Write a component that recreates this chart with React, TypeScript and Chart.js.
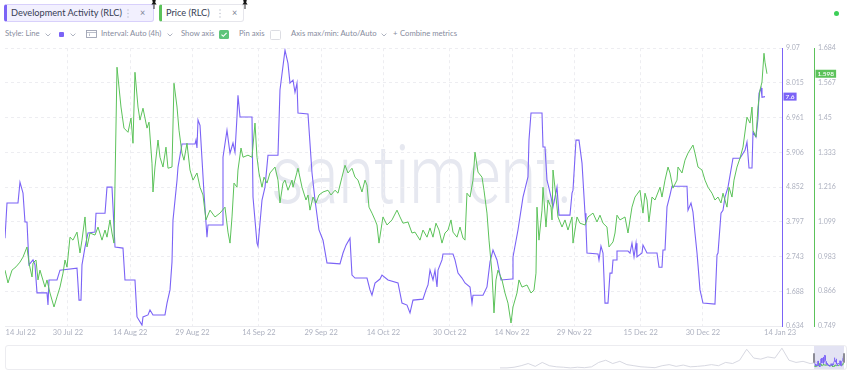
import React, { useEffect, useRef } from "react";
import { Chart, registerables } from "chart.js";

Chart.register(...registerables);

const FONT = "Lato, 'Open Sans', sans-serif";
const PURPLE = "#7b63f6";
const GREEN = "#5cc25a";
const TICK_COLOR = "#aeb2c0";

// ---- x axis (days since 14 Jul 22) ----
const xTickDays = [4.6, 16, 31, 46, 62, 77, 92, 108, 123, 138, 154, 169, 187.6];
const xTickLabels = ["14 Jul 22", "30 Jul 22", "14 Aug 22", "29 Aug 22", "14 Sep 22", "29 Sep 22", "14 Oct 22", "30 Oct 22", "14 Nov 22", "29 Nov 22", "15 Dec 22", "30 Dec 22", "14 Jan 23"];
const devTickLabels = ["0.634", "1.688", "2.743", "3.797", "4.852", "5.906", "6.961", "8.015", "9.07"];
const priceTickLabels = ["0.749", "0.866", "0.983", "1.099", "1.216", "1.333", "1.45", "1.567", "1.684"];

// ---- Development Activity (RLC) ----
const devDays = [0.82,1.30,3.95,4.43,5.16,5.64,6.12,6.60,7.57,8.05,8.53,10.94,11.18,11.42,13.35,14.07,18.17,18.65,19.13,19.37,20.10,20.82,22.51,22.75,24.92,25.40,26.60,27.33,29.25,29.73,32.14,32.63,33.83,34.07,35.28,35.76,36.48,39.37,39.86,40.58,41.06,41.30,42.27,42.51,43.47,46.60,46.84,47.08,47.33,47.81,48.77,49.49,49.73,53.11,53.35,54.31,55.04,55.76,56.24,56.72,56.96,57.45,60.34,60.58,61.54,61.78,62.75,63.47,64.19,66.60,67.08,68.29,69.01,69.49,70.22,70.70,71.18,71.42,73.83,74.80,75.52,76.48,77.45,78.41,81.54,82.27,82.99,83.95,84.43,85.16,88.05,88.77,89.25,89.98,91.18,91.66,93.11,95.52,96.00,96.48,97.69,98.41,99.13,101.54,102.27,102.75,103.23,103.95,104.43,104.92,105.16,106.12,106.36,108.77,109.25,109.98,110.94,111.66,112.87,113.35,113.59,116.00,116.96,117.69,118.41,119.37,120.34,122.99,123.23,124.43,125.64,126.84,127.08,127.57,130.22,130.46,130.94,131.42,131.90,132.39,132.87,133.35,133.83,134.31,136.96,137.45,137.69,138.41,139.13,139.86,140.58,140.82,141.06,143.71,143.95,144.43,144.92,145.40,146.12,146.60,147.09,147.33,148.05,148.29,150.94,151.42,151.90,152.39,152.87,153.11,154.31,154.55,155.52,157.93,158.41,159.13,159.37,159.86,160.34,161.06,161.54,165.16,165.40,166.12,166.60,167.08,167.57,167.81,168.29,169.01,171.90,172.39,172.63,173.35,173.83,174.31,175.04,176.24,177.93,179.13,179.61,180.10,180.82,181.06,181.78,182.27,182.51,182.99,183.23,183.95];
const devValues = [3.30,4.37,4.37,5.00,4.67,3.79,3.79,2.49,2.64,2.49,1.64,1.64,1.27,2.03,2.03,2.33,2.39,1.42,1.42,2.49,3.03,3.46,3.49,4.06,4.06,4.85,4.85,3.03,3.00,2.03,2.03,0.91,0.66,0.91,0.97,1.12,0.97,0.97,1.33,1.73,2.58,3.85,5.06,5.46,6.16,6.16,6.28,6.04,6.89,6.73,4.67,3.33,3.70,3.70,5.76,6.58,5.88,6.19,5.91,6.98,7.64,6.98,6.98,4.55,3.15,3.06,4.46,4.85,5.82,5.82,7.80,9.01,8.61,8.01,8.10,7.73,8.01,7.10,7.07,5.28,4.46,3.55,3.24,2.55,2.52,2.85,3.09,3.30,2.18,2.09,2.09,1.73,1.57,1.94,2.06,2.18,2.03,1.94,1.64,1.33,1.27,1.03,1.42,1.45,1.73,1.88,2.33,2.03,2.33,1.82,2.33,2.64,2.82,2.82,2.64,2.24,2.09,1.94,1.82,1.33,1.57,1.57,1.82,2.58,2.94,2.64,2.03,2.06,2.73,3.55,4.55,5.16,6.28,7.10,7.10,6.07,6.07,5.06,4.82,4.55,4.25,4.55,4.85,4.00,4.00,4.67,4.76,6.28,6.28,5.58,4.06,3.64,2.85,2.82,2.64,3.06,2.85,1.33,1.33,2.24,2.24,2.64,2.64,2.91,2.91,2.85,3.15,2.73,3.15,2.73,2.85,3.09,2.85,2.85,2.42,2.42,2.94,2.94,4.25,4.61,4.88,4.88,4.15,4.37,4.09,3.46,2.85,2.49,1.73,1.33,1.30,2.79,2.85,4.06,4.15,4.55,4.85,5.73,5.73,5.97,6.22,5.43,5.43,6.52,6.37,6.95,7.70,7.86,7.58,7.60];

// ---- Price (RLC) ----
const priceDays = [0.82,1.54,2.51,3.47,4.43,5.16,6.12,6.60,7.33,7.57,8.29,8.77,9.25,10.46,10.94,11.66,12.63,13.35,14.07,14.80,15.28,15.76,16.48,17.20,18.17,18.89,19.37,20.10,20.58,21.30,22.51,23.23,24.19,24.92,25.40,26.12,26.60,27.08,27.81,28.77,29.49,30.46,31.18,31.66,32.14,32.87,33.35,34.07,35.04,35.52,36.24,36.48,36.96,37.69,38.17,38.89,39.61,40.10,41.06,41.54,42.27,42.75,43.47,43.95,44.67,45.40,46.12,47.08,47.81,48.53,49.25,50.22,51.42,52.63,53.83,54.55,55.04,55.52,56.00,56.72,56.96,57.69,58.17,59.37,60.34,61.06,61.54,62.02,62.75,63.23,63.95,64.67,65.88,66.60,67.08,67.81,68.29,69.01,69.98,70.22,71.18,71.42,72.39,73.35,73.83,74.31,75.04,75.76,76.48,77.45,78.65,79.37,80.34,81.06,82.02,82.75,83.47,84.43,85.16,85.88,86.84,87.57,88.05,88.53,89.25,89.98,90.46,90.94,91.66,91.90,92.87,94.07,95.28,96.00,96.72,97.93,98.89,99.61,100.82,101.54,102.51,103.23,103.95,104.67,105.40,106.12,106.84,107.57,108.29,108.77,109.73,110.46,111.18,111.66,112.14,112.87,113.59,114.07,114.80,115.76,116.24,116.96,117.45,118.17,118.65,119.13,119.61,120.58,121.30,122.02,122.75,123.23,124.19,124.67,125.40,126.60,127.57,128.29,128.77,129.01,129.49,130.22,130.46,131.18,131.66,132.39,132.63,132.87,133.59,134.07,135.04,135.76,136.48,137.45,137.69,138.65,139.37,140.58,141.30,142.51,143.47,144.19,144.92,145.88,146.36,147.33,147.81,148.29,149.01,150.22,150.94,151.42,151.90,152.63,153.83,154.55,155.04,155.52,155.99,156.72,157.45,158.65,159.13,159.86,160.58,161.06,161.78,162.75,162.99,163.95,164.67,165.40,166.60,167.08,167.81,168.77,169.49,170.22,171.18,171.90,172.63,173.35,173.83,174.80,175.28,176.00,176.48,177.20,177.93,178.65,179.61,180.34,180.82,181.06,181.78,182.27,182.75,183.23,183.71,183.95,184.43];
const priceValues = [0.937,0.894,0.937,0.948,0.964,0.981,1.015,0.961,0.914,0.961,0.971,0.904,0.937,0.880,0.904,0.860,0.813,0.847,0.880,0.927,0.971,0.947,1.048,1.038,1.065,0.995,1.038,1.116,1.015,1.062,1.055,1.082,1.038,1.072,1.048,1.106,1.062,1.028,1.620,1.486,1.415,1.401,1.449,1.364,1.603,1.486,1.442,1.482,1.415,1.435,1.297,1.200,1.284,1.375,1.317,1.284,1.351,1.280,1.284,1.566,1.486,1.408,1.331,1.307,1.364,1.274,1.240,1.264,1.216,1.190,1.106,1.139,1.116,1.129,1.149,1.065,1.028,1.116,1.230,1.216,1.274,1.348,1.317,1.324,1.317,1.432,1.317,1.264,1.216,1.250,1.230,1.264,1.284,1.240,1.163,1.230,1.240,1.206,1.240,1.216,1.267,1.280,1.216,1.173,1.190,1.139,1.183,1.163,1.190,1.200,1.206,1.190,1.206,1.196,1.250,1.290,1.264,1.280,1.250,1.240,1.200,1.240,1.223,1.149,1.129,1.106,1.089,1.028,1.095,1.116,1.089,1.106,1.139,1.116,1.095,1.099,1.062,1.065,1.038,1.072,1.048,1.079,1.048,1.095,1.072,1.028,1.062,1.072,1.106,1.065,1.048,1.082,1.045,1.038,1.196,1.183,1.240,1.334,1.267,1.250,1.206,1.129,1.038,0.927,0.793,0.904,0.937,0.904,0.860,0.826,0.759,0.813,0.860,0.904,0.880,0.887,0.860,0.870,0.927,1.149,1.038,1.139,1.216,1.082,1.173,1.149,1.106,1.274,1.183,1.116,1.082,1.106,1.072,1.116,1.028,1.116,1.095,1.089,1.116,1.129,1.099,1.122,1.095,1.082,1.015,1.032,1.062,1.122,1.106,1.116,1.062,1.106,1.149,1.183,1.206,1.129,1.196,1.173,1.099,1.183,1.173,1.216,1.183,1.240,1.284,1.264,1.213,1.240,1.284,1.264,1.307,1.331,1.358,1.331,1.284,1.274,1.240,1.216,1.196,1.173,1.183,1.163,1.196,1.149,1.216,1.183,1.240,1.284,1.314,1.351,1.452,1.432,1.486,1.408,1.385,1.486,1.543,1.570,1.667,1.637,1.598];

// ---- navigator overview (long history, relative activity) ----
const navStartDay = -1960;
const navStepDays = 44;
const navOverview = [0.05,0.05,0.08,0.15,0.25,0.12,0.3,0.15,0.1,0.08,0.05,0.08,0.06,0.1,0.3,0.4,0.25,0.35,0.2,0.15,0.1,0.08,0.06,0.15,0.2,0.12,0.18,0.1,0.12,0.15,0.2,0.15,0.3,0.25,0.4,0.9,0.5,0.45,0.55,0.5,0.95,0.4,0.3,0.35,0.25,0.3];

const zip = (xs: number[], ys: number[]) => xs.map((x, i) => ({ x, y: ys[i] }));

const lastValuePlugin = {
  id: "lastValue",
  afterDraw(chart: any) {
    const ctx = chart.ctx;
    chart.data.datasets.forEach((ds: any) => {
      const scale = chart.scales[ds.yAxisID];
      const last = ds.data[ds.data.length - 1];
      const y = scale.getPixelForValue(last.y);
      const text = String(Number(last.y.toFixed(3)));
      ctx.save();
      ctx.font = `600 6.5px ${FONT}`;
      const w = ctx.measureText(text).width + 4;
      const x = scale.left + 1.5;
      ctx.fillStyle = ds.borderColor;
      ctx.fillRect(x, y - 4, w, 8);
      ctx.fillStyle = "#ffffff";
      ctx.textBaseline = "middle";
      ctx.fillText(text, x + 2, y + 0.5);
      ctx.restore();
    });
  },
};

function MainChart() {
  const ref = useRef<HTMLCanvasElement>(null);
  useEffect(() => {
    const chart = new Chart(ref.current as HTMLCanvasElement, {
      type: "line",
      data: {
        datasets: [
          {
            label: "Development Activity (RLC)",
            data: zip(devDays, devValues),
            borderColor: PURPLE,
            borderWidth: 1.1,
            pointRadius: 0,
            tension: 0,
            yAxisID: "yDev",
            order: 2,
          },
          {
            label: "Price (RLC)",
            data: zip(priceDays, priceValues),
            borderColor: GREEN,
            borderWidth: 1,
            pointRadius: 0,
            tension: 0,
            yAxisID: "yPrice",
            order: 1,
          },
        ],
      },
      options: {
        animation: false,
        responsive: false,
        maintainAspectRatio: false,
        layout: { padding: { left: 5, top: 8, right: 2, bottom: 0 } },
        plugins: { legend: { display: false }, tooltip: { enabled: false } },
        scales: {
          x: {
            type: "linear",
            min: 0.82,
            max: 188.05,
            afterBuildTicks: (s: any) => {
              s.ticks = xTickDays.map((v) => ({ value: v }));
            },
            afterFit: (s: any) => {
              s.height = 14;
            },
            grid: {
              drawTicks: false,
              color: (c: any) =>
                c.index === 0 || c.index === xTickDays.length - 1 ? "rgba(0,0,0,0)" : "#ededf1",
            },
            border: { display: true, color: "#ececf0", dash: [3, 3] },
            ticks: {
              autoSkip: false,
              maxRotation: 0,
              padding: 2,
              color: TICK_COLOR,
              font: { family: FONT, size: 7.5 },
              callback: (_v: any, i: number) => xTickLabels[i],
            },
          },
          yDev: {
            type: "linear",
            position: "right",
            min: 0.634,
            max: 9.07,
            afterBuildTicks: (s: any) => {
              s.ticks = devTickLabels.map((l) => ({ value: parseFloat(l) }));
            },
            afterFit: (s: any) => {
              s.width = 32;
            },
            grid: { drawTicks: false, color: "#ededf1" },
            border: { display: true, color: PURPLE, width: 1, dash: [3, 3] },
            ticks: {
              padding: 4,
              color: TICK_COLOR,
              font: { family: FONT, size: 7 },
              callback: (_v: any, i: number) => devTickLabels[i],
            },
          },
          yPrice: {
            type: "linear",
            position: "right",
            min: 0.749,
            max: 1.684,
            afterBuildTicks: (s: any) => {
              s.ticks = priceTickLabels.map((l) => ({ value: parseFloat(l) }));
            },
            afterFit: (s: any) => {
              s.width = 34;
            },
            grid: { drawTicks: false, drawOnChartArea: false },
            border: { display: true, color: GREEN, width: 1 },
            ticks: {
              padding: 4,
              color: TICK_COLOR,
              font: { family: FONT, size: 7 },
              callback: (_v: any, i: number) => priceTickLabels[i],
            },
          },
        },
      },
      plugins: [lastValuePlugin],
    } as any);
    return () => chart.destroy();
  }, []);
  return (
    <canvas
      ref={ref}
      width={850}
      height={300}
      style={{ position: "absolute", left: 0, top: 40, width: 850, height: 300 }}
    />
  );
}

function NavigatorChart() {
  const ref = useRef<HTMLCanvasElement>(null);
  useEffect(() => {
    const chart = new Chart(ref.current as HTMLCanvasElement, {
      type: "line",
      data: {
        datasets: [
          {
            data: navOverview.map((v, i) => ({ x: navStartDay + i * navStepDays, y: v })),
            borderColor: "#d3d4de",
            borderWidth: 0.9,
            pointRadius: 0,
            yAxisID: "yNav",
          },
          {
            data: zip(devDays, devValues),
            borderColor: PURPLE,
            borderWidth: 0.8,
            pointRadius: 0,
            yAxisID: "yNavDev",
          },
          {
            data: zip(priceDays, priceValues),
            borderColor: GREEN,
            borderWidth: 0.8,
            pointRadius: 0,
            yAxisID: "yNavPrice",
          },
        ],
      },
      options: {
        animation: false,
        responsive: false,
        maintainAspectRatio: false,
        layout: { padding: 0 },
        plugins: { legend: { display: false }, tooltip: { enabled: false } },
        scales: {
          x: { type: "linear", min: -5050, max: 200, display: false },
          yNav: { min: 0, max: 1.05, display: false },
          yNavDev: { min: -0.8, max: 15.3, display: false },
          yNavPrice: { min: 0.29, max: 5.6, display: false },
        },
      },
    } as any);
    return () => chart.destroy();
  }, []);
  return (
    <canvas
      ref={ref}
      width={841}
      height={23}
      style={{ position: "absolute", left: 5, top: 346, width: 841, height: 23 }}
    />
  );
}

const abs = (x: number, y: number, extra: React.CSSProperties = {}): React.CSSProperties => ({
  position: "absolute",
  left: x,
  top: y,
  ...extra,
});

function Txt({ x, y, size = 7.7, color = "#878c9e", children }: any) {
  return (
    <div
      style={abs(x, y, {
        fontFamily: FONT,
        fontSize: size,
        lineHeight: "1",
        color,
        whiteSpace: "nowrap",
      })}
    >
      {children}
    </div>
  );
}

function Chevron({ x, y }: { x: number; y: number }) {
  return (
    <svg style={abs(x, y)} width="6" height="4" viewBox="0 0 6 4">
      <path d="M0.6 0.6 L3 3 L5.4 0.6" fill="none" stroke="#a6abba" strokeWidth="0.9" />
    </svg>
  );
}

function Dots({ x, y }: { x: number; y: number }) {
  return (
    <svg style={abs(x, y)} width="2" height="9" viewBox="0 0 2 9">
      <circle cx="1" cy="1" r="0.7" fill="#b8bcc9" />
      <circle cx="1" cy="4.5" r="0.7" fill="#b8bcc9" />
      <circle cx="1" cy="8" r="0.7" fill="#b8bcc9" />
    </svg>
  );
}

function Pin({ x, y }: { x: number; y: number }) {
  return (
    <svg style={abs(x, y)} width="6" height="9" viewBox="0 0 6 9">
      <path d="M1.2 0 H4.8 L4.2 2.6 L5.6 4.4 H0.4 L1.8 2.6 Z" fill="#151515" />
      <line x1="3" y1="4.4" x2="3" y2="9" stroke="#151515" strokeWidth="0.9" />
    </svg>
  );
}

export default function App() {
  return (
    <div
      style={{
        position: "fixed",
        left: 0,
        top: 0,
        width: 850,
        height: 375,
        background: "#ffffff",
        overflow: "hidden",
      }}
    >
      {/* tabs */}
      <div
        style={abs(4, 4, {
          width: 146,
          height: 16,
          background: "#f2f0fe",
          border: "1px solid #d8d0fb",
          borderLeft: `3px solid ${PURPLE}`,
          borderRadius: 3,
        })}
      />
      <Txt x={11} y={8} size={9.2} color="#363c53">Development Activity (RLC)</Txt>
      <Dots x={127} y={9} />
      <Txt x={140} y={8} size={9} color="#7c8194">×</Txt>
      <Pin x={151} y={0} />

      <div
        style={abs(159, 4, {
          width: 81,
          height: 16,
          background: "#ffffff",
          border: "1px solid #e6e6ec",
          borderLeft: `3px solid ${GREEN}`,
          borderRadius: 3,
        })}
      />
      <Txt x={166} y={8} size={9.2} color="#363c53">Price (RLC)</Txt>
      <Dots x={219} y={9} />
      <Txt x={232} y={8} size={9} color="#7c8194">×</Txt>
      <Pin x={242} y={0} />

      <div style={abs(833.5, 10.5, { width: 5, height: 5, borderRadius: "50%", background: "#3ccf57" })} />

      {/* settings row */}
      <Txt x={5} y={30}>Style: Line</Txt>
      <Chevron x={45} y={33} />
      <div style={abs(59, 32, { width: 5, height: 5, borderRadius: 1, background: PURPLE })} />
      <Chevron x={70} y={33} />
      <svg style={abs(86, 30)} width="11" height="8" viewBox="0 0 11 8">
        <rect x="0.5" y="0.5" width="10" height="7" fill="none" stroke="#9ea3b3" strokeWidth="0.9" />
        <line x1="0.5" y1="2.5" x2="10.5" y2="2.5" stroke="#9ea3b3" strokeWidth="0.7" />
        <line x1="3.5" y1="3.5" x2="3.5" y2="6" stroke="#9ea3b3" strokeWidth="0.7" />
      </svg>
      <Txt x={101} y={30}>Interval: Auto (4h)</Txt>
      <Chevron x={167} y={33} />
      <Txt x={181} y={30}>Show axis</Txt>
      <div style={abs(219, 30, { width: 10, height: 9, borderRadius: 1.5, background: "#5ec47a" })} />
      <svg style={abs(219, 30)} width="10" height="9" viewBox="0 0 10 9">
        <path d="M2.5 4.6 L4.3 6.3 L7.6 2.8" fill="none" stroke="#ffffff" strokeWidth="1.1" />
      </svg>
      <Txt x={239} y={30}>Pin axis</Txt>
      <div style={abs(270, 30, { width: 9, height: 8, borderRadius: 1.5, border: "1px solid #dcdde3", background: "#fff" })} />
      <Txt x={291} y={30}>Axis max/min: Auto/Auto</Txt>
      <Chevron x={381} y={33} />
      <Txt x={393} y={30}>+</Txt>
      <Txt x={400} y={30}>Combine metrics</Txt>

      {/* watermark */}
      <div
        style={abs(271, 135, {
          fontFamily: "Roboto, sans-serif",
          fontWeight: 300,
          fontSize: 82,
          lineHeight: "80px",
          color: "#e6e8f0",
          whiteSpace: "nowrap",
          transform: "scaleX(0.79)",
          transformOrigin: "left top",
        })}
      >
        santiment.
      </div>

      <MainChart />

      {/* navigator */}
      <div
        style={abs(5, 345, {
          width: 840,
          height: 23,
          border: "1px solid #ececf0",
          borderRadius: 3,
        })}
      />
      <div style={abs(814, 346, { width: 30, height: 23, background: "#e3e3f3" })} />
      <NavigatorChart />
      <div style={abs(813, 353, { width: 2, height: 10, background: "#8c8c96", borderRadius: 1 })} />
      <div style={abs(843, 353, { width: 2, height: 10, background: "#8c8c96", borderRadius: 1 })} />
    </div>
  );
}
